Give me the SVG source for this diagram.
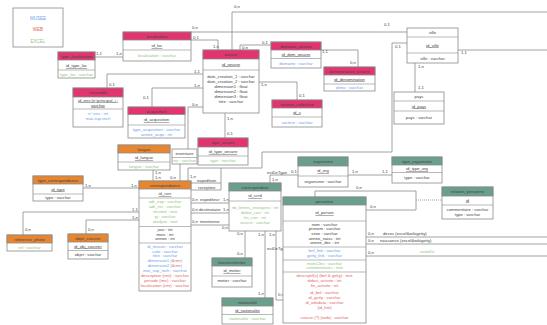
<svg xmlns="http://www.w3.org/2000/svg" width="547" height="325" viewBox="0 0 547 325">
<style>
text{font-family:"Liberation Sans",Arial,sans-serif;font-size:4.2px;fill:#444;text-anchor:middle}
.b{fill:#fff;stroke:#8a8a8a;stroke-width:0.8}
.hp{fill:#e2346f;stroke:#8a8a8a;stroke-width:0.8}
.ho{fill:#e8852f;stroke:#8a8a8a;stroke-width:0.8}
.ht{fill:#6a9f8c;stroke:#8a8a8a;stroke-width:0.8}
.s{stroke:#8a8a8a;stroke-width:0.6}
.u{text-decoration:underline}
.bl{fill:#6d9eeb}.gr{fill:#93c47d}.rd{fill:#e06666}
#connectors path{fill:none;stroke:#8a8a8a;stroke-width:0.8}
#connectors .d{stroke-dasharray:1,1}
.lb{text-anchor:start}
</style>

<g id="connectors">
<path d="M95,57 H123"/>
<path d="M191,40 H218 V50"/>
<path d="M191,32 H407"/>
<path d="M232,50 V12 H547"/>
<path d="M458,50 H547"/>
<path d="M240,50 V45 H271"/>
<path d="M321,50 H358 V67"/>
<path d="M259,82 H297 V100"/>
<path d="M107,88 V74 H203"/>
<path d="M152,107 V88 H203"/>
<path d="M225,113 V138"/>
<path d="M203,107 H188 V149"/>
<path d="M180,164 V181"/>
<path d="M153,170 V181"/>
<path d="M83,188 H139"/>
<path d="M23,235 V212 H139"/>
<path d="M86,234 V220 H139"/>
<path d="M407,43 H392 V152 H262 V168 H188 V181"/>
<path d="M191,183 H221 V168"/>
<path d="M191,190 H221 V183"/>
<path d="M270,183 V175 H298"/>
<path d="M191,203 H229"/>
<path d="M191,213 H229"/>
<path d="M191,225 H229"/>
<path d="M245,231 V258"/>
<path d="M265,231 V298"/>
<path d="M276,231 V300 H283"/>
<path d="M348,175 H392"/>
<path d="M315,197 V191 H416 V210 H366"/>
<path class="d" d="M416,200 H442"/>
<path d="M415,63 V92"/>
<path d="M366,237 H547"/>
<path d="M366,244 H547"/>
<path d="M366,256 H547"/>
<text class="lb" x="96" y="55">1,1</text>
<text class="lb" x="116" y="55">1,n</text>
<text class="lb" x="193" y="39">0,1</text>
<text class="lb" x="213" y="48">1,n</text>
<text class="lb" x="192" y="29">0,n</text>
<text class="lb" x="384" y="26">0,1</text>
<text class="lb" x="234" y="8">0,n</text>
<text class="lb" x="461" y="54">1,1</text>
<text class="lb" x="242" y="49">0,n</text>
<text class="lb" x="262" y="44">0,1</text>
<text class="lb" x="322" y="53">1,1</text>
<text class="lb" x="350" y="64">0,n</text>
<text class="lb" x="261" y="86">1,n</text>
<text class="lb" x="299" y="97">0,1</text>
<text class="lb" x="109" y="86">0,1</text>
<text class="lb" x="194" y="73">1,1</text>
<text class="lb" x="143" y="99">0,1</text>
<text class="lb" x="194" y="87">1,n</text>
<text class="lb" x="227" y="120">1,n</text>
<text class="lb" x="227" y="135">0,1</text>
<text class="lb" x="192" y="106">0,n</text>
<text class="lb" x="170" y="179">0,n</text>
<text class="lb" x="155" y="174">1,n</text>
<text class="lb" x="155" y="179">1,n</text>
<text class="lb" x="85" y="187">1,n</text>
<text class="lb" x="131" y="187">1,n</text>
<text class="lb" x="25" y="231">0,n</text>
<text class="lb" x="132" y="211">1,1</text>
<text class="lb" x="88" y="231">0,n</text>
<text class="lb" x="132" y="219">1,n</text>
<text class="lb" x="395" y="48">0,1</text>
<text class="lb" x="190" y="178">1,n</text>
<text class="lb" x="197" y="182">expedition</text>
<text class="lb" x="198" y="189">reception</text>
<text class="lb" x="272" y="181">1,n</text>
<text class="lb" x="267" y="174">estDeType</text>
<text class="lb" x="291" y="173">0,1</text>
<text class="lb" x="192" y="201">0,n</text>
<text class="lb" x="200" y="201">expediteur</text>
<text class="lb" x="223" y="201">1,n</text>
<text class="lb" x="192" y="211">0,n</text>
<text class="lb" x="199" y="211">destinataire</text>
<text class="lb" x="223" y="211">1,n</text>
<text class="lb" x="192" y="223">0,n</text>
<text class="lb" x="200" y="223">mentionne</text>
<text class="lb" x="222" y="229">0,n</text>
<text class="lb" x="237" y="235">0,n</text>
<text class="lb" x="237" y="255">0,n</text>
<text class="lb" x="258" y="236">1,n</text>
<text class="lb" x="258" y="295">1,n</text>
<text class="lb" x="269" y="236">1,n</text>
<text class="lb" x="267" y="250">estDeType</text>
<text class="lb" x="278" y="296">0,n</text>
<text class="lb" x="352" y="173">1,n</text>
<text class="lb" x="382" y="173">1,1</text>
<text class="lb" x="356" y="189">0,n</text>
<text class="lb" x="370" y="208">0,n</text>
<text class="lb" x="418" y="68">1,n</text>
<text class="lb" x="418" y="89">1,1</text>
<text class="lb" x="368" y="235">0,n</text>
<text class="lb" x="383" y="235">deces (excel&amp;wikigetty)</text>
<text class="lb" x="368" y="242">0,n</text>
<text class="lb" x="380" y="242">naissance (excel&amp;wikigetty)</text>
<text class="lb" x="368" y="254">0,n</text>
<text class="lb gr" x="420" y="253">estorDe</text>
</g>

<g id="legend">
<rect class="b" x="13" y="8" width="50" height="39"/>
<text class="bl" x="38" y="20" style="font-size:4.5px">MUSEE</text>
<text class="rd" x="38" y="31" style="font-size:4.5px">WEB</text>
<text class="gr" x="38" y="43" style="font-size:4.5px">EXCEL</text>
</g>

<g id="type_localisation">
<rect class="b" x="58" y="52" width="37" height="26"/>
<rect class="hp" x="58" y="52" width="37" height="8"/>
<text x="76.5" y="57.5">type_localisation</text>
<text class="u" x="76.5" y="67">id_type_loc</text>
<line class="s" x1="58" y1="70" x2="95" y2="70"/>
<text class="gr" x="76.5" y="75.5">type_loc : varchar</text>
</g>

<g id="localisation">
<rect class="b" x="123" y="32" width="68" height="29"/>
<rect class="hp" x="123" y="32" width="68" height="8"/>
<text x="157" y="37.5">localisation</text>
<text class="u" x="157" y="47">id_loc</text>
<line class="s" x1="123" y1="50" x2="191" y2="50"/>
<text class="gr" x="157" y="57">localisation : varchar</text>
</g>

<g id="oeuvre">
<rect class="b" x="203" y="50" width="56" height="63"/>
<rect class="hp" x="203" y="50" width="56" height="9"/>
<text x="231" y="56">oeuvre</text>
<text class="u" x="231" y="65.5">id_oeuvre</text>
<line class="s" x1="203" y1="70" x2="259" y2="70"/>
<text x="231" y="77.5">date_creation_1 : varchar</text>
<text x="231" y="82.5">date_creation_2 : varchar</text>
<text x="231" y="87.5">dimension1 : float</text>
<text x="231" y="92.5">dimension2 : float</text>
<text x="231" y="97.5">dimension3 : float</text>
<text x="231" y="102.5">titre : varchar</text>
</g>

<g id="domaine_oeuvre">
<rect class="b" x="271" y="42" width="50" height="26"/>
<rect class="hp" x="271" y="42" width="50" height="8"/>
<text x="296" y="47.5">domaine_oeuvre</text>
<text class="u" x="296" y="55.5">id_dom_oeuvre</text>
<line class="s" x1="271" y1="58.5" x2="321" y2="58.5"/>
<text class="bl" x="296" y="64.5">domaine : varchar</text>
</g>

<g id="denomination_oeuvre">
<rect class="b" x="324" y="67" width="51" height="24"/>
<rect class="hp" x="324" y="67" width="51" height="8"/>
<text x="349.5" y="72.5">denomination_oeuvre</text>
<text class="u" x="349.5" y="80.5">id_denomination</text>
<line class="s" x1="324" y1="84" x2="375" y2="84"/>
<text class="bl" x="349.5" y="89">deno : varchar</text>
</g>

<g id="secteur_collection">
<rect class="b" x="272" y="100" width="50" height="27"/>
<rect class="hp" x="272" y="100" width="50" height="8"/>
<text x="297" y="105.5">secteur_collection</text>
<text class="u" x="297" y="113.5">id_s</text>
<line class="s" x1="272" y1="117" x2="322" y2="117"/>
<text class="bl" x="297" y="123.5">secteur : varchar</text>
</g>

<g id="ville">
<rect class="b" x="407" y="28" width="51" height="35"/>
<line class="s" x1="407" y1="37" x2="458" y2="37"/>
<text x="432.5" y="34">ville</text>
<text class="u" x="432.5" y="46.5">id_ville</text>
<line class="s" x1="407" y1="53" x2="458" y2="53"/>
<text x="432.5" y="59.5">ville : varchar</text>
</g>

<g id="pays">
<rect class="b" x="394" y="92" width="50" height="32"/>
<line class="s" x1="394" y1="101" x2="444" y2="101"/>
<text x="419" y="98">pays</text>
<text class="u" x="419" y="107.5">id_pays</text>
<line class="s" x1="394" y1="111" x2="444" y2="111"/>
<text x="419" y="119">pays : varchar</text>
</g>

<g id="ensemble">
<rect class="b" x="73" y="88" width="50" height="39"/>
<rect class="hp" x="73" y="88" width="50" height="9"/>
<text x="98" y="94">ensemble</text>
<text class="u" x="98" y="101.5">id_ens:(n°principal_i :</text>
<text class="u" x="98" y="106.5">varchar</text>
<line class="s" x1="73" y1="109" x2="123" y2="109"/>
<text class="bl" x="98" y="114.5">n° ens : int</text>
<text class="bl" x="98" y="119.5">mat-sup-tech</text>
</g>

<g id="acquisition">
<rect class="b" x="128" y="107" width="57" height="31"/>
<rect class="hp" x="128" y="107" width="57" height="7.5"/>
<text x="156.5" y="112.5">acquisition</text>
<text class="u" x="156.5" y="121">id_acquisition</text>
<line class="s" x1="128" y1="125" x2="185" y2="125"/>
<text class="bl" x="156.5" y="130.5">type_acquisition : varchar</text>
<text class="bl" x="156.5" y="135.5">annee_acqu : int</text>
</g>

<g id="type_oeuvre">
<rect class="b" x="198" y="138" width="50" height="27"/>
<rect class="hp" x="198" y="138" width="50" height="9"/>
<text x="223" y="144">type_oeuvre</text>
<text class="u" x="223" y="153">id_type_oeuvre</text>
<line class="s" x1="198" y1="156" x2="248" y2="156"/>
<text class="gr" x="223" y="162">type : varchar</text>
</g>

<g id="inventaire">
<rect class="b" x="172" y="149" width="25" height="15"/>
<text x="184.5" y="155">inventaire</text>
<line class="s" x1="172" y1="157.5" x2="197" y2="157.5"/>
<text class="gr" x="184.5" y="162">inv : varchar</text>
</g>

<g id="langue">
<rect class="b" x="118" y="145" width="52" height="25"/>
<rect class="ho" x="118" y="145" width="52" height="8"/>
<text x="144" y="150.5">langue</text>
<text class="u" x="144" y="159">id_langue</text>
<line class="s" x1="118" y1="162" x2="170" y2="162"/>
<text class="gr" x="144" y="167.5">langue : varchar</text>
</g>

<g id="type_correspondance">
<rect class="b" x="33" y="176" width="50" height="25"/>
<rect class="ho" x="33" y="176" width="50" height="8"/>
<text x="58" y="181.5">type_correspondance</text>
<text class="u" x="58" y="190.5">id_type</text>
<line class="s" x1="33" y1="194" x2="83" y2="194"/>
<text x="58" y="199">type : varchar</text>
</g>

<g id="correspondance">
<rect class="b" x="139" y="181" width="52" height="110"/>
<rect class="ho" x="139" y="181" width="52" height="8"/>
<text x="165" y="186.5">correspondance</text>
<text class="u" x="165" y="195">id_corr</text>
<line class="s" x1="139" y1="198" x2="191" y2="198"/>
<text class="gr" x="165" y="203">adr_exp : varchar</text>
<text class="gr" x="165" y="208">adr_rec : varchar</text>
<text class="gr" x="165" y="213">résumé : text</text>
<text class="gr" x="165" y="218">pj : varchar</text>
<text class="gr" x="165" y="223">analyse : text</text>
<line class="s" x1="139" y1="226.5" x2="191" y2="226.5"/>
<text x="165" y="231">jour : int</text>
<text x="165" y="235.5">mois : int</text>
<text x="165" y="240">annee : int</text>
<line class="s" x1="139" y1="243" x2="191" y2="243"/>
<text class="bl" x="165" y="248">id_musee : varchar</text>
<text class="bl" x="165" y="252.5">cote : varchar</text>
<text class="bl" x="165" y="257">titre : varchar</text>
<text class="bl" x="165" y="262">dimension1 (<tspan class="rd">&amp;rmr</tspan>)</text>
<text class="bl" x="165" y="267">dimension2 (<tspan class="rd">&amp;rmr</tspan>)</text>
<text class="bl" x="165" y="272">mat_sup_tech : varchar</text>
<text class="rd" x="165" y="277">description (rmr) : varchar</text>
<text class="rd" x="165" y="282">periode (rmr) : varchar</text>
<text class="rd" x="165" y="287">localisation (rmr) : varchar</text>
</g>

<g id="reference_photo">
<rect class="b" x="7" y="235" width="45" height="16"/>
<rect class="ho" x="7" y="235" width="45" height="8"/>
<text x="29.5" y="240.5">reference_photo</text>
<text class="gr" x="29.5" y="248.5">ref : varchar</text>
</g>

<g id="objet_courrier">
<rect class="b" x="68" y="234" width="40" height="25"/>
<rect class="ho" x="68" y="234" width="40" height="8"/>
<text x="88" y="239.5">objet_courrier</text>
<text class="u" x="88" y="247.5">id_obj_courrier</text>
<line class="s" x1="68" y1="250.5" x2="108" y2="250.5"/>
<text x="88" y="256">objet : varchar</text>
</g>

<g id="correspondant">
<rect class="b" x="229" y="183" width="52" height="48"/>
<rect class="ht" x="229" y="183" width="52" height="8"/>
<text x="255" y="188.5">correspondant</text>
<text class="u" x="255" y="197">id_scrd</text>
<line class="s" x1="229" y1="201" x2="281" y2="201"/>
<text class="gr" x="255" y="208.5">nb_lettres_envoyees : int</text>
<text class="gr" x="255" y="213.5">debut_corr : int</text>
<text class="gr" x="255" y="218.5">fin_corr : int</text>
<text class="gr" x="255" y="223.5">source : varchar</text>
</g>

<g id="fonction_metier">
<rect class="b" x="212" y="258" width="40" height="29"/>
<rect class="ht" x="212" y="258" width="40" height="8"/>
<text x="232" y="263.5">fonction/metier</text>
<text class="u" x="232" y="272">id_metier</text>
<line class="s" x1="212" y1="276" x2="252" y2="276"/>
<text x="232" y="282">metier : varchar</text>
</g>

<g id="nationalite">
<rect class="b" x="222" y="298" width="51" height="26"/>
<rect class="ht" x="222" y="298" width="51" height="8"/>
<text x="247.5" y="303.5">nationalité</text>
<text class="u" x="247.5" y="311.5">id_nationalite</text>
<line class="s" x1="222" y1="314.5" x2="273" y2="314.5"/>
<text class="gr" x="247.5" y="320">nationalite : varchar</text>
</g>

<g id="organisme">
<rect class="b" x="298" y="157" width="50" height="30"/>
<rect class="ht" x="298" y="157" width="50" height="9"/>
<text x="323" y="163">organisme</text>
<text class="u" x="323" y="172">id_org</text>
<line class="s" x1="298" y1="176" x2="348" y2="176"/>
<text x="323" y="182.5">organisme : varchar</text>
</g>

<g id="type_organisme">
<rect class="b" x="392" y="157" width="50" height="26"/>
<rect class="ht" x="392" y="157" width="50" height="8"/>
<text x="417" y="162.5">type_organisme</text>
<text class="u" x="417" y="170">id_type_org</text>
<line class="s" x1="392" y1="172.5" x2="442" y2="172.5"/>
<text x="417" y="178.5">type : varchar</text>
</g>

<g id="personne">
<rect class="b" x="283" y="197" width="83" height="126"/>
<rect class="ht" x="283" y="197" width="83" height="8"/>
<text x="324.5" y="202.5">personne</text>
<text class="u" x="324.5" y="214">id_person</text>
<line class="s" x1="283" y1="221" x2="366" y2="221"/>
<text x="324.5" y="225.5">nom : varchar</text>
<text x="324.5" y="230">prenom : varchar</text>
<text x="324.5" y="234.5">sexe : varchar</text>
<text x="324.5" y="239.5">annee_naiss : int</text>
<text x="324.5" y="244">annee_dec : int</text>
<line class="s" x1="283" y1="247" x2="366" y2="247"/>
<text class="bl" x="324.5" y="252">bnf_link : varchar</text>
<text class="bl" x="324.5" y="257">getty_link : varchar</text>
<line class="s" x1="283" y1="260" x2="366" y2="260"/>
<text class="gr" x="324.5" y="264.5">motsCles : varchar</text>
<text class="gr" x="324.5" y="269">commentaires : text</text>
<line class="s" x1="283" y1="272" x2="366" y2="272"/>
<text class="rd" x="324.5" y="277">descriptif(s) (bnf &amp; getty) : text</text>
<text class="rd" x="324.5" y="282">debut_activite : int</text>
<text class="rd" x="324.5" y="286.5">fin_activite : int</text>
<text class="rd" x="324.5" y="293.5">id_bnf : varchar</text>
<text class="rd" x="324.5" y="298.5">id_getty : varchar</text>
<text class="rd" x="324.5" y="303.5">id_wikidata : varchar</text>
<text class="rd" x="324.5" y="308.5">(id_hm)</text>
<text class="rd" x="324.5" y="318.5">source (?) (web) : varchar</text>
</g>

<g id="relation_personne">
<rect class="b" x="442" y="187" width="51" height="32"/>
<rect class="ht" x="442" y="187" width="51" height="9"/>
<text x="467.5" y="193">relation_personne</text>
<text class="u" x="467.5" y="201.5">id</text>
<line class="s" x1="442" y1="205" x2="493" y2="205"/>
<text x="467.5" y="210.5">commentaire : varchar</text>
<text x="467.5" y="215.5">type : varchar</text>
</g>
</svg>
